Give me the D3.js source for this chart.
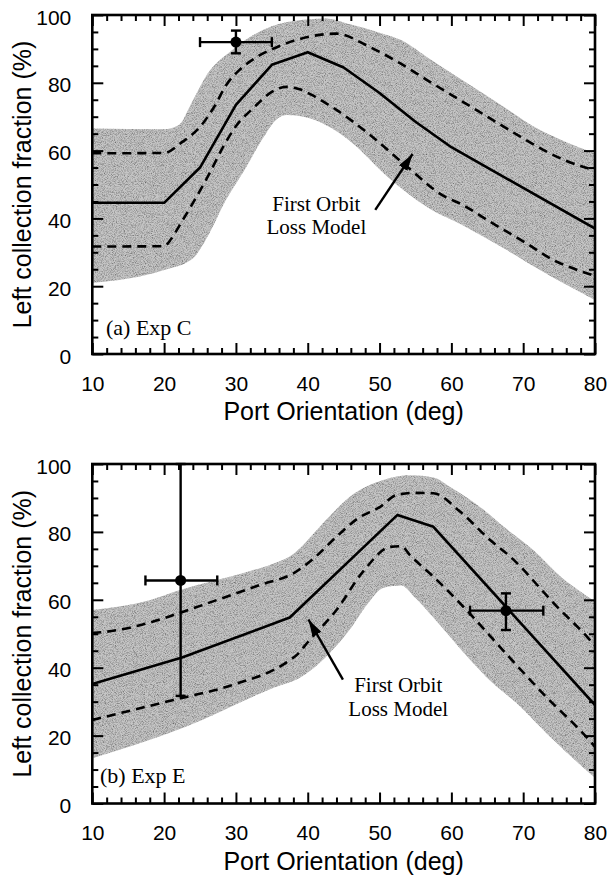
<!DOCTYPE html>
<html><head><meta charset="utf-8">
<script src="https://cdn.jsdelivr.net/npm/d3@7"></script>
<style>body{margin:0;background:#fff} svg{display:block}</style>
</head><body><svg id="c" width="609" height="877"></svg>
<script>
// ---------- tick labels / titles ----------
const xTickValues = [10, 20, 30, 40, 50, 60, 70, 80];
const yTickValues = [0, 20, 40, 60, 80, 100];
const xTitle = "Port Orientation (deg)";
const yTitle = "Left collection fraction (%)";

// ---------- panel (a) Exp C ----------
const aSolidX = [10, 20, 25, 30, 35, 40, 45, 50, 55, 60, 80];
const aSolidY = [44.6, 44.6, 55, 73.5, 85.3, 89, 84.5, 77, 68.5, 61, 37];
const aDashUpX = [10, 20, 22.5, 25, 27, 28.7, 30.5, 33, 36, 40, 44, 48.5, 52.9, 57, 61.2, 65.4, 69.6, 73.7, 78.2, 80];
const aDashUpY = [59.2, 59.3, 62.5, 67, 73, 79.5, 83.8, 87.7, 90.8, 93.5, 94.5, 90.7, 85.7, 80.3, 74.9, 69.5, 64.1, 59.2, 55.3, 54.3];
const aDashLoX = [10, 20, 21, 22.3, 24, 26, 28.2, 30.1, 32.4, 35, 37, 39, 41, 44, 48.4, 53.8, 59.1, 61.2, 65.4, 70.5, 74.2, 78.2, 80];
const aDashLoY = [31.7, 31.8, 34, 38.5, 44.5, 52, 61, 67.5, 72.5, 77.3, 78.8, 78, 75.9, 72, 65.1, 55.3, 46.4, 44.4, 39, 32.6, 27.7, 24.3, 23];
const aBandUpX = [10, 20, 22, 24, 26, 29.5, 34, 38, 42.5, 46, 50, 53, 57, 62.1, 67, 71.4, 76, 80];
const aBandUpY = [66.5, 66.3, 67.5, 74.8, 82.5, 89.7, 95.8, 98.2, 99, 97.2, 94.8, 92.6, 87, 80, 73.3, 67.2, 62.5, 59.2];
const aBandLoX = [10, 20, 24, 26.3, 28.6, 31.2, 33.6, 35.8, 37.1, 41, 45.7, 51.1, 56.5, 61.9, 67.3, 72.7, 80];
const aBandLoY = [21, 24.8, 28.2, 35.6, 45.4, 54.3, 63.1, 69.5, 70.5, 69, 63.1, 52.3, 43.5, 37.6, 31.2, 24.3, 15.9];
const aPointX = [30], aPointY = [92];
const aPointXLo = [25], aPointXHi = [35];
const aPointYLo = [88.7], aPointYHi = [95.4];

// ---------- panel (b) Exp E ----------
const bSolidX = [10, 22.5, 37.5, 52.5, 57.5, 80];
const bSolidY = [35.2, 43, 54.8, 85, 81.5, 29];
const bDashUpX = [10, 12, 18.5, 21.3, 27.3, 33.4, 38, 41, 44, 47, 50.1, 52.4, 55, 57.5, 61.2, 65.4, 68.2, 74.7, 78.9, 80];
const bDashUpY = [50.2, 50.6, 53.6, 55.5, 59.9, 64.4, 67.8, 72.5, 78.6, 84, 87.4, 90.9, 91.5, 91.4, 86, 77.6, 72.7, 58, 49.1, 46.5];
const bDashLoX = [10, 21.3, 29.5, 37, 38.6, 40, 44, 47.7, 51.5, 53, 54.3, 58, 62.1, 66.3, 72.7, 79.6, 80];
const bDashLoY = [24.6, 30.5, 34.9, 41.5, 44, 47.5, 57, 68.3, 75.6, 75.8, 73, 65.8, 57, 47.2, 32.5, 17.7, 16.7];
const bBandUpX = [10, 18, 22.2, 32, 35, 38, 41.3, 43, 45.9, 50.5, 54.3, 57.5, 60, 64.5, 67, 71.4, 75.4, 77.9, 80];
const bBandUpY = [57, 59.9, 62.9, 68.5, 70.5, 73.5, 80.6, 84.5, 90.4, 95.3, 96.7, 96, 93, 86.5, 82, 74.7, 66.5, 62.5, 59.5];
const bBandLoX = [10, 23, 35, 39.2, 43, 45.8, 48.4, 50.5, 53, 55, 58, 62.1, 65, 69.1, 73.7, 80];
const bBandLoY = [13.3, 22.6, 33.9, 37.4, 44.2, 51.1, 59, 63.5, 64.2, 60.5, 53.5, 43.5, 37, 29.5, 19.7, 7.5];
const bPointX = [22.3, 67.6], bPointY = [65.7, 56.8];
const bPointXLo = [17.4, 62.6], bPointXHi = [27.4, 72.8];
const bPointYLo = [31.7, 51.1], bPointYHi = [100, 61.9];

const zip = (xs, ys) => xs.map((x, i) => [x, ys[i]]);
const pts = (xs, xl, xh, ys, yl, yh) => xs.map((x, i) => ({x, y: ys[i], x0: xl[i], x1: xh[i], y0: yl[i], y1: yh[i]}));

const panels = [
  {
    top: 15, bottom: 354, label: "(a) Exp C", labelPos: [106, 335],
    solid: zip(aSolidX, aSolidY), dashUp: zip(aDashUpX, aDashUpY), dashLo: zip(aDashLoX, aDashLoY),
    bandUp: zip(aBandUpX, aBandUpY), bandLo: zip(aBandLoX, aBandLoY),
    points: pts(aPointX, aPointXLo, aPointXHi, aPointY, aPointYLo, aPointYHi),
    note: {cx: 41.2, y1: 42.2, y2: 35.4}, arrow: {x0: 49.4, y0: 42.5, x1: 54.6, y1: 59}
  },
  {
    top: 464, bottom: 803.5, label: "(b) Exp E", labelPos: [100, 783.3],
    solid: zip(bSolidX, bSolidY), dashUp: zip(bDashUpX, bDashUpY), dashLo: zip(bDashLoX, bDashLoY),
    bandUp: zip(bBandUpX, bBandUpY), bandLo: zip(bBandLoX, bBandLoY),
    points: pts(bPointX, bPointXLo, bPointXHi, bPointY, bPointYLo, bPointYHi),
    note: {cx: 52.6, y1: 32.8, y2: 25.9}, arrow: {x0: 44.9, y0: 36.5, x1: 40.1, y1: 54.2}
  }
];

const svg = d3.select("#c");
const L = 92.3, R = 595;
const sans = "'Liberation Sans', Arial, Helvetica, sans-serif";
const serif = "'Liberation Serif', 'Times New Roman', serif";

const defs = svg.append("defs");
defs.append("marker").attr("id", "ah").attr("markerUnits", "userSpaceOnUse")
  .attr("viewBox", "0 0 17 10").attr("refX", 17).attr("refY", 5)
  .attr("markerWidth", 17).attr("markerHeight", 10).attr("orient", "auto")
  .append("path").attr("d", "M0,0 L17,5 L0,10 Z").attr("fill", "#000");

// halftone-like grain for the shaded band
const grain = defs.append("filter").attr("id", "grain")
  .attr("x", 0).attr("y", 0).attr("width", 1).attr("height", 1);
grain.append("feTurbulence").attr("type", "fractalNoise").attr("baseFrequency", 1.1)
  .attr("numOctaves", 2).attr("seed", 7).attr("result", "noise");
grain.append("feColorMatrix").attr("in", "noise").attr("type", "matrix")
  .attr("values", "0 0 0 0 0  0 0 0 0 0  0 0 0 0 0  1.5 0 0 0 -0.58").attr("result", "dots");
grain.append("feComposite").attr("in", "dots").attr("in2", "SourceGraphic")
  .attr("operator", "in").attr("result", "dotsIn");
const mg = grain.append("feMerge");
mg.append("feMergeNode").attr("in", "SourceGraphic");
mg.append("feMergeNode").attr("in", "dotsIn");

panels.forEach((p, pi) => {
  const x = d3.scaleLinear().domain([10, 80]).range([L, R]);
  const y = d3.scaleLinear().domain([0, 100]).range([p.bottom, p.top]);
  const g = svg.append("g");

  defs.append("clipPath").attr("id", "clip" + pi).append("rect")
    .attr("x", L).attr("y", p.top).attr("width", R - L).attr("height", p.bottom - p.top);

  const plot = g.append("g").attr("clip-path", `url(#clip${pi})`);
  const smooth = d3.line().x(d => x(d[0])).y(d => y(d[1])).curve(d3.curveMonotoneX);
  const straight = d3.line().x(d => x(d[0])).y(d => y(d[1]));

  // band
  const up = smooth(p.bandUp);
  const lo = smooth(p.bandLo.slice().reverse());
  plot.append("path").attr("d", up + "L" + lo.slice(1) + "Z")
    .attr("fill", "#c6c6c6").attr("stroke", "none").attr("filter", "url(#grain)");

  // dashed
  [p.dashUp, p.dashLo].forEach(d => plot.append("path").attr("d", smooth(d))
    .attr("fill", "none").attr("stroke", "#000").attr("stroke-width", 2.6)
    .attr("stroke-dasharray", "9,6"));
  // solid
  plot.append("path").attr("d", straight(p.solid)).attr("fill", "none")
    .attr("stroke", "#000").attr("stroke-width", 2.6).attr("stroke-linejoin", "round");

  // axes (ticks inward on four sides)
  const minorX = d3.range(10, 80.01, 2).filter(v => !xTickValues.includes(v));
  const minorY = d3.range(0, 100.01, 5).filter(v => !yTickValues.includes(v));
  const ax = g.append("g");
  const bottomAx = ax.append("g").attr("transform", `translate(0,${p.bottom})`)
    .call(d3.axisBottom(x).tickValues(xTickValues).tickSize(-11).tickSizeOuter(0).tickPadding(22));
  ax.append("g").attr("transform", `translate(0,${p.bottom})`)
    .call(d3.axisBottom(x).tickValues(minorX).tickSize(-6).tickSizeOuter(0).tickFormat(""));
  ax.append("g").attr("transform", `translate(0,${p.top})`)
    .call(d3.axisTop(x).tickValues(xTickValues).tickSize(-11).tickSizeOuter(0).tickFormat(""));
  ax.append("g").attr("transform", `translate(0,${p.top})`)
    .call(d3.axisTop(x).tickValues(minorX).tickSize(-6).tickSizeOuter(0).tickFormat(""));
  const leftAx = ax.append("g").attr("transform", `translate(${L},0)`)
    .call(d3.axisLeft(y).tickValues(yTickValues).tickSize(-11).tickSizeOuter(0).tickPadding(21));
  ax.append("g").attr("transform", `translate(${L},0)`)
    .call(d3.axisLeft(y).tickValues(minorY).tickSize(-6).tickSizeOuter(0).tickFormat(""));
  ax.append("g").attr("transform", `translate(${R},0)`)
    .call(d3.axisRight(y).tickValues(yTickValues).tickSize(-11).tickSizeOuter(0).tickFormat(""));
  ax.append("g").attr("transform", `translate(${R},0)`)
    .call(d3.axisRight(y).tickValues(minorY).tickSize(-6).tickSizeOuter(0).tickFormat(""));
  ax.selectAll(".domain").remove();
  ax.selectAll(".tick line").attr("stroke", "#000").attr("stroke-width", 2);
  ax.selectAll("text").attr("font-family", sans).attr("font-size", 21).attr("fill", "#000");
  bottomAx.selectAll("text").attr("dy", "0.71em");
  leftAx.selectAll("text").attr("dy", "0.43em");

  // frame
  g.append("rect").attr("x", L).attr("y", p.top).attr("width", R - L).attr("height", p.bottom - p.top)
    .attr("fill", "none").attr("stroke", "#000").attr("stroke-width", 2.6);

  // data points with error bars
  const eb = g.append("g").attr("stroke", "#000").attr("stroke-width", 2.4);
  p.points.forEach(d => {
    eb.append("line").attr("x1", x(d.x0)).attr("x2", x(d.x1)).attr("y1", y(d.y)).attr("y2", y(d.y));
    eb.append("line").attr("x1", x(d.x)).attr("x2", x(d.x)).attr("y1", y(d.y0)).attr("y2", y(d.y1));
    [d.x0, d.x1].forEach(v => eb.append("line").attr("x1", x(v)).attr("x2", x(v))
      .attr("y1", y(d.y) - 5).attr("y2", y(d.y) + 5));
    [d.y0, d.y1].forEach(v => eb.append("line").attr("x1", x(d.x) - 5).attr("x2", x(d.x) + 5)
      .attr("y1", y(v)).attr("y2", y(v)));
    g.append("circle").attr("cx", x(d.x)).attr("cy", y(d.y)).attr("r", 5.5).attr("fill", "#000");
  });

  // annotation
  g.append("line").attr("x1", x(p.arrow.x0)).attr("y1", y(p.arrow.y0))
    .attr("x2", x(p.arrow.x1)).attr("y2", y(p.arrow.y1))
    .attr("stroke", "#000").attr("stroke-width", 2.4).attr("marker-end", "url(#ah)");
  [["First Orbit", p.note.y1], ["Loss Model", p.note.y2]].forEach(([t, v]) =>
    g.append("text").attr("x", x(p.note.cx)).attr("y", y(v)).attr("font-family", serif)
      .attr("font-size", 21).attr("text-anchor", "middle").attr("fill", "#000").text(t));

  g.append("text").attr("x", p.labelPos[0]).attr("y", p.labelPos[1])
    .attr("font-family", serif).attr("font-size", 22).attr("fill", "#000").text(p.label);

  // axis titles
  g.append("text").attr("x", (L + R) / 2).attr("y", p.bottom + 66)
    .attr("text-anchor", "middle").attr("font-family", sans).attr("font-size", 25)
    .attr("fill", "#000").text(xTitle);
  g.append("text").attr("transform", `translate(31,${(p.top + p.bottom) / 2}) rotate(-90)`)
    .attr("text-anchor", "middle").attr("font-family", sans).attr("font-size", 25)
    .attr("fill", "#000").text(yTitle);
});
</script>
</body></html>
